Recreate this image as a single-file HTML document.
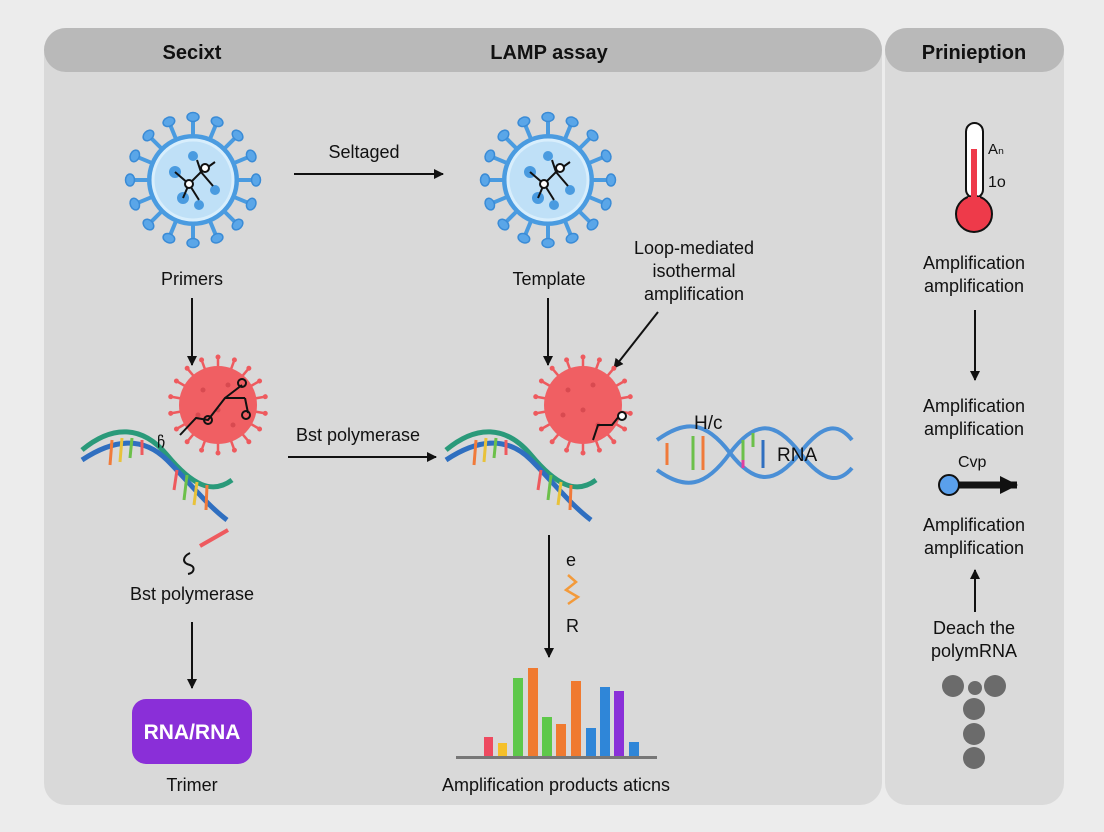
<!DOCTYPE html>
<html><head><meta charset="utf-8"><style>
body{margin:0;background:#ececec;width:1104px;height:832px;overflow:hidden}
svg{display:block}
text{font-family:"Liberation Sans","DejaVu Sans",sans-serif;fill:#111}
</style></head><body>
<svg width="1104" height="832" viewBox="0 0 1104 832">
<defs>
<marker id="ah" markerWidth="10" markerHeight="10" refX="9" refY="5" orient="auto" markerUnits="userSpaceOnUse" viewBox="0 0 10 10"><path d="M0,0 L10,5 L0,10z" fill="#111"/></marker>
<marker id="ah2" markerWidth="18" markerHeight="18" refX="17" refY="9" orient="auto" markerUnits="userSpaceOnUse" viewBox="0 0 18 18"><path d="M0,0 L18,9 L0,18z" fill="#111"/></marker>
<g id="bs"><line x1="0" y1="-44" x2="0" y2="-60" stroke="#4a9be0" stroke-width="4"/><ellipse cx="0" cy="-63" rx="6" ry="4.5" fill="#5aa6e8" stroke="#3a8bd6" stroke-width="1.5"/></g>
<g id="rs"><line x1="0" y1="-38" x2="0" y2="-46" stroke="#ee5a5e" stroke-width="2.5"/><circle cx="0" cy="-48" r="2.5" fill="#ee5a5e"/></g>
<g id="bv">
<use href="#bs" transform="rotate(0)"/><use href="#bs" transform="rotate(22.5)"/><use href="#bs" transform="rotate(45)"/><use href="#bs" transform="rotate(67.5)"/><use href="#bs" transform="rotate(90)"/><use href="#bs" transform="rotate(112.5)"/><use href="#bs" transform="rotate(135)"/><use href="#bs" transform="rotate(157.5)"/><use href="#bs" transform="rotate(180)"/><use href="#bs" transform="rotate(202.5)"/><use href="#bs" transform="rotate(225)"/><use href="#bs" transform="rotate(247.5)"/><use href="#bs" transform="rotate(270)"/><use href="#bs" transform="rotate(292.5)"/><use href="#bs" transform="rotate(315)"/><use href="#bs" transform="rotate(337.5)"/>
<circle r="46" fill="#4a9be0"/><circle r="40" fill="#bfe0f7" stroke="#d8eefc" stroke-width="3"/>
<circle cx="-18" cy="-8" r="6" fill="#4a9be0"/><circle cx="0" cy="-24" r="5" fill="#4a9be0"/><circle cx="-10" cy="18" r="6" fill="#4a9be0"/><circle cx="22" cy="10" r="5" fill="#4a9be0"/><circle cx="6" cy="25" r="5" fill="#4a9be0"/>
<path d="M-18,-8 L-4,4 L8,-8 L22,-18 M-4,4 L-10,18 M-4,4 L6,20 M8,-8 L4,-20 M8,-8 L20,6" stroke="#111" stroke-width="2" fill="none"/>
<circle cx="-4" cy="4" r="4" fill="#fff" stroke="#111" stroke-width="2"/><circle cx="12" cy="-12" r="4" fill="#fff" stroke="#111" stroke-width="2"/>
</g>
<g id="rv">
<use href="#rs" transform="rotate(0)"/><use href="#rs" transform="rotate(20)"/><use href="#rs" transform="rotate(40)"/><use href="#rs" transform="rotate(60)"/><use href="#rs" transform="rotate(80)"/><use href="#rs" transform="rotate(100)"/><use href="#rs" transform="rotate(120)"/><use href="#rs" transform="rotate(140)"/><use href="#rs" transform="rotate(160)"/><use href="#rs" transform="rotate(180)"/><use href="#rs" transform="rotate(200)"/><use href="#rs" transform="rotate(220)"/><use href="#rs" transform="rotate(240)"/><use href="#rs" transform="rotate(260)"/><use href="#rs" transform="rotate(280)"/><use href="#rs" transform="rotate(300)"/><use href="#rs" transform="rotate(320)"/><use href="#rs" transform="rotate(340)"/>
<circle r="39" fill="#f05f63"/>
<circle cx="-15" cy="-15" r="2.5" fill="#d84a50"/><circle cx="10" cy="-20" r="2.5" fill="#d84a50"/><circle cx="-20" cy="10" r="2.5" fill="#d84a50"/><circle cx="15" cy="20" r="2.5" fill="#d84a50"/><circle cx="0" cy="5" r="2.5" fill="#d84a50"/>
</g>
<g id="dna">
<path d="M0,20 C30,-5 60,-5 85,25 C110,55 130,65 150,50" stroke="#2a9a7a" stroke-width="5" fill="none"/>
<path d="M0,30 C30,10 60,5 85,30 C105,50 125,75 145,90" stroke="#2f6fc0" stroke-width="5" fill="none"/>
<g stroke-width="3"><line x1="30" y1="10" x2="28" y2="35" stroke="#f07a3a"/><line x1="40" y1="8" x2="38" y2="32" stroke="#e8c23a"/><line x1="50" y1="8" x2="48" y2="28" stroke="#6cc04a"/><line x1="60" y1="10" x2="60" y2="25" stroke="#ee5a5e"/><line x1="95" y1="40" x2="92" y2="60" stroke="#ee5a5e"/><line x1="105" y1="45" x2="102" y2="70" stroke="#6cc04a"/><line x1="115" y1="52" x2="112" y2="75" stroke="#e8c23a"/><line x1="125" y1="55" x2="124" y2="80" stroke="#f07a3a"/></g>
</g>
</defs>
<rect x="44" y="28" width="838" height="777" rx="22" fill="#d9d9d9"/>
<rect x="885" y="28" width="179" height="777" rx="22" fill="#dadada"/>
<rect x="44" y="28" width="838" height="44" rx="22" fill="#b9b9b9"/>
<rect x="885" y="28" width="179" height="44" rx="22" fill="#b9b9b9"/>
<text x="192" y="59" font-size="20" font-weight="bold" text-anchor="middle">Secixt</text>
<text x="549" y="59" font-size="20" font-weight="bold" text-anchor="middle">LAMP assay</text>
<text x="974" y="59" font-size="20" font-weight="bold" text-anchor="middle">Prinieption</text>

<use href="#bv" x="193" y="180"/>
<use href="#bv" x="548" y="180"/>
<line x1="294" y1="174" x2="443" y2="174" stroke="#111" stroke-width="2" marker-end="url(#ah)"/>
<text x="364" y="158" font-size="18" text-anchor="middle">Seltaged</text>
<text x="192" y="285" font-size="18" text-anchor="middle">Primers</text>
<text x="549" y="285" font-size="18" text-anchor="middle">Template</text>
<text x="694" y="254" font-size="18" text-anchor="middle">Loop-mediated</text>
<text x="694" y="277" font-size="18" text-anchor="middle">isothermal</text>
<text x="694" y="300" font-size="18" text-anchor="middle">amplification</text>
<line x1="192" y1="298" x2="192" y2="365" stroke="#111" stroke-width="2" marker-end="url(#ah)"/>
<line x1="548" y1="298" x2="548" y2="365" stroke="#111" stroke-width="2" marker-end="url(#ah)"/>
<line x1="658" y1="312" x2="614" y2="368" stroke="#111" stroke-width="2" marker-end="url(#ah)"/>

<use href="#dna" x="82" y="430"/>
<use href="#rv" x="218" y="405"/>
<path d="M180,435 L196,418 L208,420 L225,398 L245,398 M225,398 L242,385 M245,398 L248,413" stroke="#111" stroke-width="2" fill="none"/>
<circle cx="208" cy="420" r="4" fill="none" stroke="#111" stroke-width="2"/><circle cx="242" cy="383" r="4" fill="none" stroke="#111" stroke-width="2"/><circle cx="246" cy="415" r="4" fill="none" stroke="#111" stroke-width="2"/>
<text x="157" y="448" font-size="16">ჩ</text>
<use href="#dna" x="446" y="430"/>
<use href="#rv" x="583" y="405"/>
<path d="M593,440 L598,425 L612,425 L620,415" stroke="#111" stroke-width="2" fill="none"/>
<circle cx="622" cy="416" r="4" fill="#fff" stroke="#111" stroke-width="2"/>
<line x1="288" y1="457" x2="436" y2="457" stroke="#111" stroke-width="2" marker-end="url(#ah)"/>
<text x="358" y="441" font-size="18" text-anchor="middle">Bst polymerase</text>

<path d="M657,440 C685,420 705,420 730,453 C755,485 775,485 800,453 C825,420 840,425 852,440" stroke="#4a8fd6" stroke-width="4" fill="none"/>
<path d="M657,470 C685,490 705,488 730,453 C755,420 775,420 800,453 C825,485 840,482 852,468" stroke="#4a8fd6" stroke-width="4" fill="none"/>
<g stroke-width="3"><line x1="667" y1="443" x2="667" y2="465" stroke="#f07a3a"/><line x1="693" y1="436" x2="693" y2="470" stroke="#6cc04a"/><line x1="703" y1="436" x2="703" y2="470" stroke="#f07a3a"/><line x1="743" y1="440" x2="743" y2="468" stroke="#6cc04a"/><line x1="743" y1="460" x2="743" y2="468" stroke="#e040a0"/><line x1="753" y1="433" x2="753" y2="447" stroke="#6cc04a"/><line x1="763" y1="440" x2="763" y2="468" stroke="#2f6fc0"/></g>
<text x="694" y="429" font-size="19">H/c</text>
<text x="777" y="461" font-size="19">RNA</text>

<line x1="549" y1="535" x2="549" y2="657" stroke="#111" stroke-width="2" marker-end="url(#ah)"/>
<text x="566" y="566" font-size="18">e</text>
<path d="M568,575 L576,582 L566,590 L578,597 L568,604" stroke="#f39a3a" stroke-width="2.5" fill="none"/>
<text x="566" y="632" font-size="18">R</text>
<g>
<rect x="484" y="737" width="9" height="20" fill="#ee4a60"/>
<rect x="498" y="743" width="9" height="14" fill="#f5c02a"/>
<rect x="513" y="678" width="10" height="79" fill="#5ec84a"/>
<rect x="528" y="668" width="10" height="89" fill="#f07a30"/>
<rect x="542" y="717" width="10" height="40" fill="#5ec84a"/>
<rect x="556" y="724" width="10" height="33" fill="#f07a30"/>
<rect x="571" y="681" width="10" height="76" fill="#f07a30"/>
<rect x="586" y="728" width="10" height="29" fill="#2f86d8"/>
<rect x="600" y="687" width="10" height="70" fill="#2f86d8"/>
<rect x="614" y="691" width="10" height="66" fill="#8a30d8"/>
<rect x="629" y="742" width="10" height="15" fill="#2f86d8"/>
<rect x="456" y="756" width="201" height="3" fill="#777"/>
</g>
<text x="556" y="791" font-size="18" text-anchor="middle">Amplification products aticns</text>

<path d="M190,553 c-8,4 -8,10 0,12 c6,2 4,8 -2,9" stroke="#111" stroke-width="2" fill="none"/>
<line x1="200" y1="546" x2="228" y2="530" stroke="#ee5a5e" stroke-width="4"/>
<text x="192" y="600" font-size="18" text-anchor="middle">Bst polymerase</text>
<line x1="192" y1="622" x2="192" y2="688" stroke="#111" stroke-width="2" marker-end="url(#ah)"/>
<rect x="132" y="699" width="120" height="65" rx="14" fill="#8a2fd8"/>
<text x="192" y="739" font-size="21" font-weight="bold" text-anchor="middle" style="fill:#fff">RNA/RNA</text>
<text x="192" y="791" font-size="18" text-anchor="middle">Trimer</text>

<rect x="966" y="123" width="17" height="75" rx="8.5" fill="#fff" stroke="#111" stroke-width="2"/>
<circle cx="974" cy="214" r="18" fill="#ee3a4a" stroke="#111" stroke-width="2"/>
<rect x="968" y="197" width="12" height="6" fill="#ee3a4a"/>
<rect x="971" y="149" width="6" height="55" fill="#ee3a4a"/>
<text x="988" y="154" font-size="15">Aₙ</text>
<text x="988" y="187" font-size="16">1o</text>
<text x="974" y="269" font-size="18" text-anchor="middle">Amplification</text>
<text x="974" y="292" font-size="18" text-anchor="middle">amplification</text>
<line x1="975" y1="310" x2="975" y2="380" stroke="#111" stroke-width="2" marker-end="url(#ah)"/>
<text x="974" y="412" font-size="18" text-anchor="middle">Amplification</text>
<text x="974" y="435" font-size="18" text-anchor="middle">amplification</text>
<text x="958" y="467" font-size="16">Cvp</text>
<line x1="955" y1="485" x2="1017" y2="485" stroke="#111" stroke-width="7" marker-end="url(#ah2)"/>
<circle cx="949" cy="485" r="10" fill="#5aa0ec" stroke="#111" stroke-width="2"/>
<text x="974" y="531" font-size="18" text-anchor="middle">Amplification</text>
<text x="974" y="554" font-size="18" text-anchor="middle">amplification</text>
<line x1="975" y1="612" x2="975" y2="570" stroke="#111" stroke-width="2" marker-end="url(#ah)"/>
<text x="974" y="634" font-size="18" text-anchor="middle">Deach the</text>
<text x="974" y="657" font-size="18" text-anchor="middle">polymRNA</text>
<g fill="#6b6b6b"><circle cx="953" cy="686" r="11"/><circle cx="975" cy="688" r="7"/><circle cx="995" cy="686" r="11"/><circle cx="974" cy="709" r="11"/><circle cx="974" cy="734" r="11"/><circle cx="974" cy="758" r="11"/></g>
</svg>
</body></html>
